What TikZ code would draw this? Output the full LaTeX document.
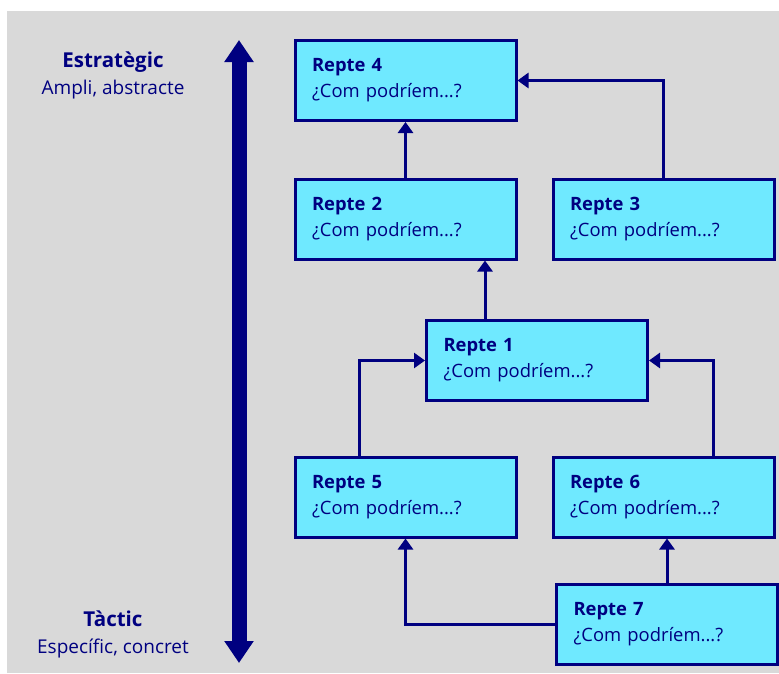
\documentclass[tikz,border=0pt]{standalone}
\usepackage{fontspec}
\setmainfont{Open Sans}
\usetikzlibrary{arrows.meta}
\definecolor{navy}{RGB}{0,0,128}
\definecolor{boxcyan}{RGB}{111,233,255}
\definecolor{panelgray}{RGB}{217,217,217}
\newcommand{\levelhead}[1]{{\fontsize{20.5}{27}\selectfont\bfseries #1}}

\begin{document}
\begin{tikzpicture}[x = 1pt, y = -1pt, line width = 3pt,
                      repte/.style = {rectangle, draw = navy, fill = boxcyan, text = navy,
                                      minimum width = 221pt, minimum height = 80pt,
                                      text width = 187pt, inner xsep = 17pt, align = left,
                                      font = \fontsize{18.4}{26}\selectfont},
                      link/.style = {draw = navy, -{Triangle[width = 15pt, length = 11pt]}},
                      level/.style = {align = center, text = navy,
                                      font = \fontsize{19}{27}\selectfont}]
    \useasboundingbox (0, 0) rectangle (779, 673);
    \fill [panelgray] (7, 11) rectangle (779, 673);

    \node [level] (estrategic) at (113, 75) {\levelhead{Estratègic}\\Ampli, abstracte};
    \node [level] (tactic) at (113, 634) {\levelhead{Tàctic}\\Específic, concret};
    \coordinate (top) at (239, 40);
    \coordinate (bottom) at (239, 663);
    \draw [navy, line width = 15pt,
           {Triangle[width = 28pt, length = 22pt]}-{Triangle[width = 28pt, length = 22pt]}]
          (top) -- (bottom);

    \node [repte] (r4) at (405.5, 80.5) {\textbf{Repte 4}\\¿Com podríem...?};
    \node [repte] (r2) at (405.5, 219) {\textbf{Repte 2}\\¿Com podríem...?};
    \node [repte] (r3) at (663.5, 219) {\textbf{Repte 3}\\¿Com podríem...?};
    \node [repte] (r1) at (537, 360.5) {\textbf{Repte 1}\\¿Com podríem...?};
    \node [repte] (r5) at (405.5, 497) {\textbf{Repte 5}\\¿Com podríem...?};
    \node [repte] (r6) at (663.5, 497) {\textbf{Repte 6}\\¿Com podríem...?};
    \node [repte] (r7) at (667, 624) {\textbf{Repte 7}\\¿Com podríem...?};

    \draw [link] (r2) -- (r4);
    \draw [link] (r3.north) |- (r4.east);
    \draw [link] ([xshift = -52pt]r1.north) -- ([xshift = -52pt]r1.north |- r2.south);
    \draw [link] ([xshift = -46pt]r5.north) |- (r1.west);
    \draw [link] ([xshift = 50pt]r6.north) |- (r1.east);
    \draw [link] (r7.west) -| (r5.south);
    \draw [link] (r7.north) -- (r7.north |- r6.south);
\end{tikzpicture}
\end{document}
